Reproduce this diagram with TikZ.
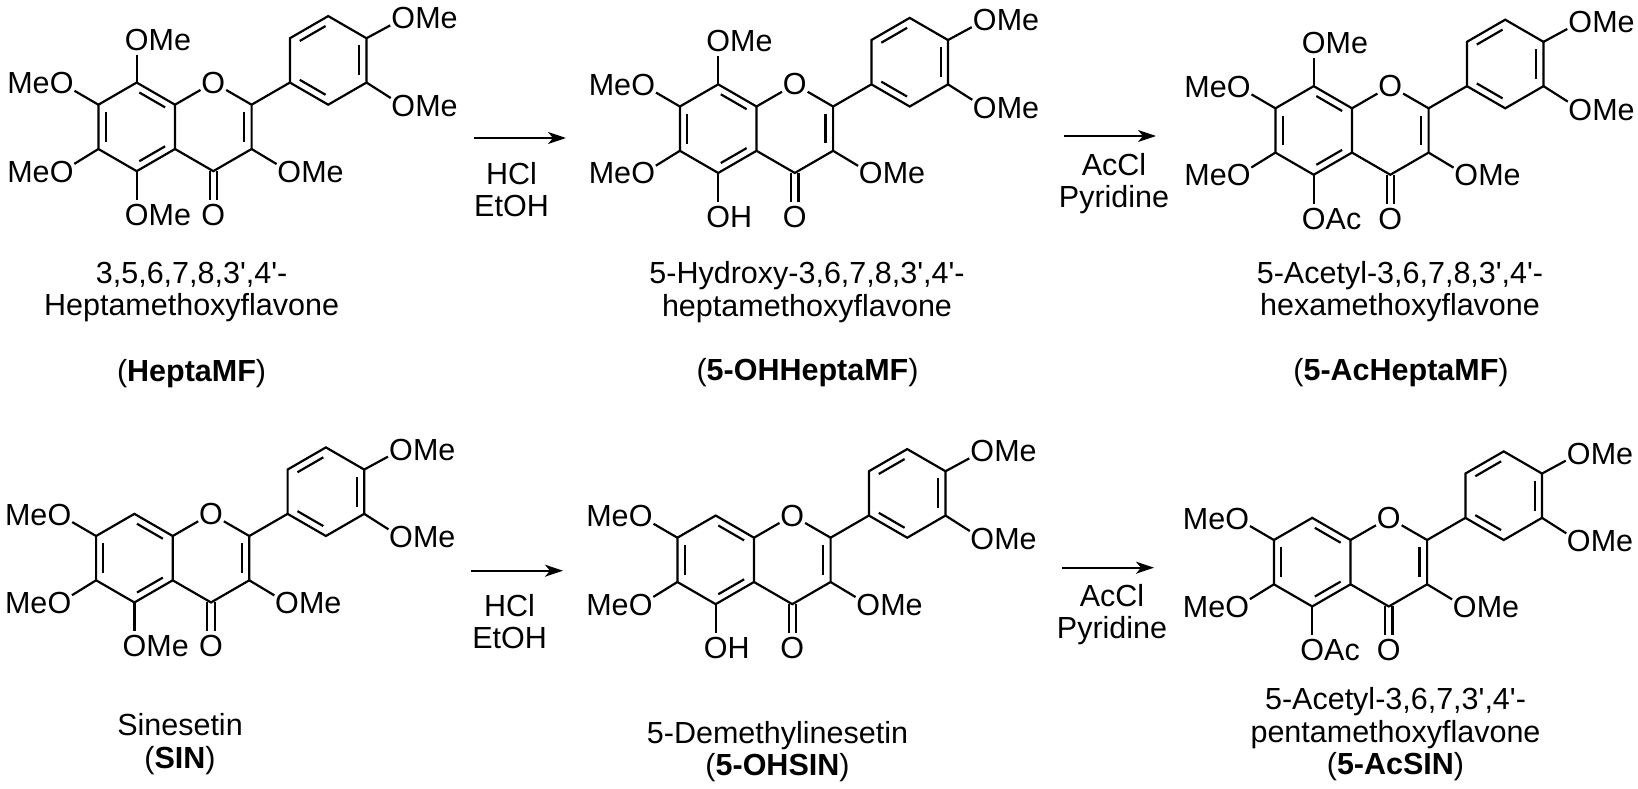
\documentclass[tikz,border=0pt]{standalone}
\usepackage{fontspec}
\setmainfont{Liberation Sans}
\usetikzlibrary{arrows.meta,calc}
\newcommand{\pr}{\textquotesingle}

\tikzset{
	pics/flavone/.style={code={
		\coordinate (-c8) at (-38.3,-22.15);
		\coordinate (-c7) at (-76.6,0);
		\coordinate (-c6) at (-76.6,44.3);
		\coordinate (-c5) at (-38.3,66.45);
		\coordinate (-c4a) at (0,44.3);
		\coordinate (-c8a) at (0,0);
		\coordinate (-c2) at (76.6,0);
		\coordinate (-c3) at (76.6,44.3);
		\coordinate (-c4) at (38.3,66.45);
		\coordinate (-c1p) at (114.9,-22.15);
		\coordinate (-c2p) at (153.2,0);
		\coordinate (-c3p) at (191.5,-22.15);
		\coordinate (-c4p) at (191.5,-66.45);
		\coordinate (-c5p) at (153.2,-88.6);
		\coordinate (-c6p) at (114.9,-66.45);
		\coordinate (-ra) at (-38.3,22.15);
		\coordinate (-rb) at (38.3,22.15);
		\coordinate (-rc) at (153.2,-44.3);
		
		\node[oxy] (-o1) at (38.3,-22.15) {O};
		\node[oxy] (-o7) at (-113.3,-21.4) {O};
		\node[tail_l] (-t7) at (-o7.base) {Me};
		\node[oxy] (-o6) at (-113.3,67) {O};
		\node[tail_l] (-t6) at (-o6.base) {Me};
		\node[oxy] (-o5) at (-38.3,110.3) {O};
		\node[tail_r] (-t5) at (-o5.base) {#1};
		\node[oxy] (-o4) at (38.3,110.3) {O};
		\node[oxy] (-o3) at (114.3,67) {O};
		\node[tail_r] (-t3) at (-o3.base) {Me};
		\node[oxy] (-o3p) at (228.3,1.3) {O};
		\node[tail_r] (-t3p) at (-o3p.base) {Me};
		\node[oxy] (-o4p) at (228.3,-86.4) {O};
		\node[tail_r] (-t4p) at (-o4p.base) {Me};
		
		\draw[bond] (-c8) -- (-c7) -- (-c6) -- (-c5) -- (-c4a) -- (-c8a) -- cycle;
		\draw[bond] (-c8a) -- (-o1) -- (-c2) -- (-c3) -- (-c4) -- (-c4a);
		\draw[bond] (-c1p) -- (-c2p) -- (-c3p) -- (-c4p) -- (-c5p) -- (-c6p) -- cycle;
		\draw[bond] (-c2) -- (-c1p);
		\draw[bond] (-c7) -- (-o7);
		\draw[bond] (-c6) -- (-o6);
		\draw[bond] (-c5) -- (-o5);
		\draw[bond] (-c3) -- (-o3);
		\draw[bond] (-c3p) -- (-o3p);
		\draw[bond] (-c4p) -- (-o4p);
		\draw[bond] ([xshift=-3.7pt]-c4) -- ([xshift=-3.7pt]-o4.north);
		\draw[bond] ([xshift=3.7pt]-c4) -- ([xshift=3.7pt]-o4.north);
		
		\draw[dbl] ($(-c8)!.19!(-ra)$) -- ($(-c8a)!.19!(-ra)$);
		\draw[dbl] ($(-c7)!.19!(-ra)$) -- ($(-c6)!.19!(-ra)$);
		\draw[dbl] ($(-c5)!.19!(-ra)$) -- ($(-c4a)!.19!(-ra)$);
		\draw[dbl] ($(-c2)!.2!(-rb)$) -- ($(-c3)!.2!(-rb)$);
		\draw[dbl] ($(-c1p)!.19!(-rc)$) -- ($(-c2p)!.19!(-rc)$);
		\draw[dbl] ($(-c3p)!.19!(-rc)$) -- ($(-c4p)!.19!(-rc)$);
		\draw[dbl] ($(-c5p)!.19!(-rc)$) -- ($(-c6p)!.19!(-rc)$);
	}},
	pics/top_ome/.style={code={
		\node[oxy] (-o8) at (-38.3,-65) {O};
		\node[tail_r] (-t8) at (-o8.base) {Me};
		\draw[bond] (-c8) -- (-o8);
	}}
}

\begin{document}
\begin{tikzpicture}[x=1pt,y=-1pt]
	\tikzstyle{every node}=[font=\fontsize{30.5}{32.5}\selectfont]
	\tikzstyle{bond}=[line width=2.2pt, line join=miter]
	\tikzstyle{dbl}=[bond, shorten >=3pt, shorten <=3pt]
	\tikzstyle{oxy}=[circle, inner sep=-1pt]
	\tikzstyle{tail_r}=[inner sep=0, anchor=base west, xshift=11.8pt]
	\tikzstyle{tail_l}=[inner sep=0, anchor=base east, xshift=-11.8pt]
	\tikzstyle{txt}=[inner sep=0, align=center]
	\tikzstyle{rxn}=[line width=2pt, -{Stealth[length=18pt,width=12pt,inset=5pt]}]
	\useasboundingbox (0,0) rectangle (1638,789);
	
	\pic (hepta) at (175,104.7) {flavone=Me};
	\pic (hepta) at (175,104.7) {top_ome};
	\pic (oh) at (756.5,106.5) {flavone=H};
	\pic (oh) at (756.5,106.5) {top_ome};
	\pic (ac) at (1352,108.3) {flavone=Ac};
	\pic (ac) at (1352,108.3) {top_ome};
	\pic (sin) at (172.7,536) {flavone=Me};
	\pic (sinoh) at (754,537.7) {flavone=H};
	\pic (sinac) at (1350.5,540) {flavone=Ac};
	
	\node[txt] (hepta_name) at (191.6,292) {3,5,6,7,8,3\pr,4\pr-\\Heptamethoxyflavone};
	\node[txt] (hepta_id) at (191.6,373.5) {(\textbf{HeptaMF})};
	\node[txt] (oh_name) at (807,292) {5-Hydroxy-3,6,7,8,3\pr,4\pr-\\heptamethoxyflavone};
	\node[txt] (oh_id) at (807.5,372.5) {(\textbf{5-OHHeptaMF})};
	\node[txt] (ac_name) at (1400,291.5) {5-Acetyl-3,6,7,8,3\pr,4\pr-\\hexamethoxyflavone};
	\node[txt] (ac_id) at (1401,372.5) {(\textbf{5-AcHeptaMF})};
	\node[txt] (sin_name) at (180,744) {Sinesetin\\(\textbf{SIN})};
	\node[txt] (sinoh_name) at (777.5,751.5) {5-Demethylinesetin\\(\textbf{5-OHSIN})};
	\node[txt] (sinac_name) at (1395.5,734.5) {5-Acetyl-3,6,7,3\pr,4\pr-\\pentamethoxyflavone\\(\textbf{5-AcSIN})};
	
	\coordinate (a1) at (474,138);
	\coordinate (b1) at (566,138);
	\coordinate (a2) at (1064,136);
	\coordinate (b2) at (1156,136);
	\coordinate (a3) at (471,570.7);
	\coordinate (b3) at (563,570.7);
	\coordinate (a4) at (1062,567.7);
	\coordinate (b4) at (1154,567.7);
	\draw[rxn] (a1) -- (b1);
	\draw[rxn] (a2) -- (b2);
	\draw[rxn] (a3) -- (b3);
	\draw[rxn] (a4) -- (b4);
	
	\node[txt] (r1) at (511.5,189.5) {HCl\\EtOH};
	\node[txt] (r2) at (1114,183.5) {AcCl\\Pyridine};
	\node[txt] (r3) at (509.6,621.5) {HCl\\EtOH};
	\node[txt] (r4) at (1112,614.5) {AcCl\\Pyridine};
\end{tikzpicture}
\end{document}
